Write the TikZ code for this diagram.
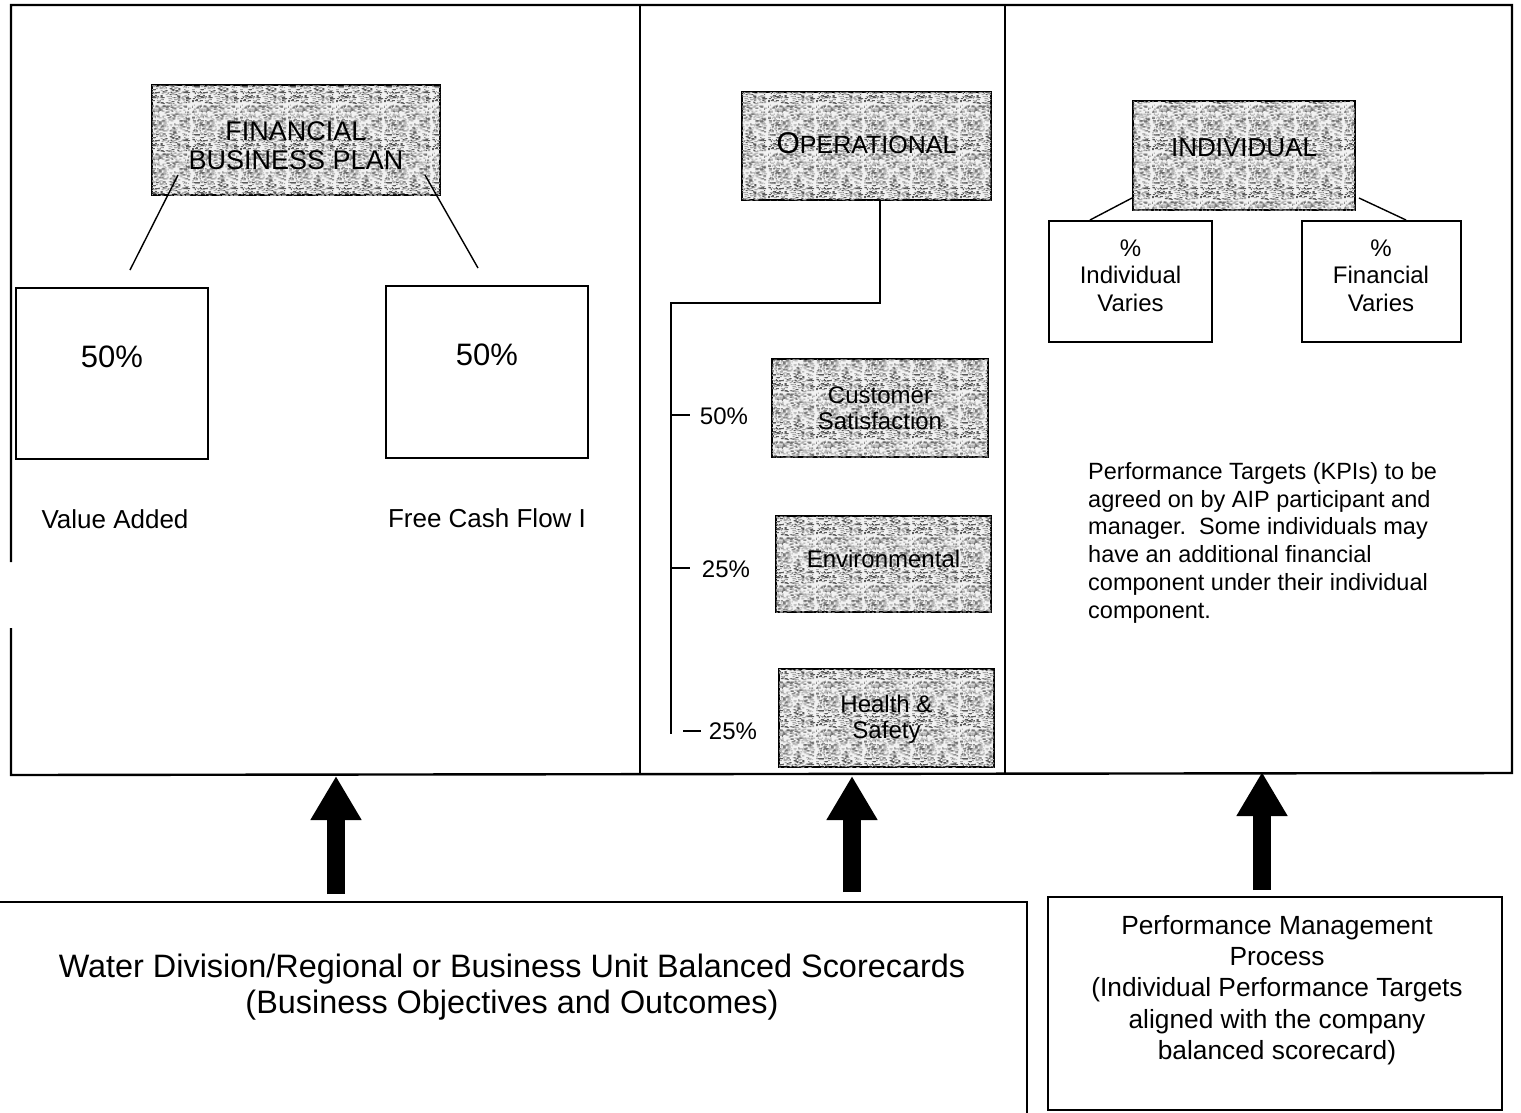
\documentclass[tikz,border=0pt]{standalone}
\usepackage{fontspec}
\setmainfont{Liberation Sans}
\usetikzlibrary{arrows.meta,patterns,calc}

\newcommand{\fsz}[2]{\fontsize{#1}{#2}\selectfont}

% stippled shading: short horizontal specks scattered over a square tile
\newcommand{\declarespeckle}[3]{%
  \pgfdeclarepatternformonly{#1}{\pgfqpoint{0pt}{0pt}}{\pgfqpoint{48pt}{48pt}}{\pgfqpoint{48pt}{48pt}}{%
    \pgfmathsetseed{#2}%
    \foreach \k in {1,...,#3}{%
      \pgfmathrandominteger{\sx}{0}{45}%
      \pgfmathrandominteger{\sy}{0}{47}%
      \pgfmathrandominteger{\sw}{1}{3}%
      \pgfpathrectangle{\pgfqpoint{\sx pt}{\sy pt}}{\pgfqpoint{\sw pt}{1pt}}%
      \pgfusepath{fill}%
    }%
  }%
}
\declarespeckle{speckgray}{1234}{400}
\declarespeckle{speckdark}{4321}{190}

\begin{document}
\begin{tikzpicture}[x=1pt,y=-1pt,
  frameline/.style={line width=2.4pt},
  shaded/.style={draw, line width=2pt, fill=gray!10,
    postaction={pattern=speckgray, pattern color=gray!70},
    postaction={pattern=speckdark, pattern color=black!65},
    inner sep=0pt, align=center},
  plainbox/.style={draw, line width=2pt, inner sep=0pt, align=center},
  link/.style={line width=1.4pt},
  label/.style={inner sep=0pt, align=center},
  bigarrow/.style={line width=18pt, -{Triangle[length=44pt,width=48pt]}},
]
\useasboundingbox (0,0) rectangle (1521,1112);

% ---- outer frame with its three columns ----
\draw[frameline] (11,562) -- (11,5) -- (1512,5) -- (1512,773) -- (11,775) -- (11,628);
\draw[frameline] (640,5) -- (640,774);
\draw[frameline] (1005,5) -- (1005,773);
\coordinate (frameA) at (336,776);
\coordinate (frameB) at (852,776);
\coordinate (frameC) at (1262,772);

% ---- financial column ----
\node[shaded, minimum width=288pt, minimum height=110pt] (fin) at (296,140) {};
\node[label, font=\fsz{27}{29}] (fintxt) at ($(fin.center)+(0,6)$) {FINANCIAL\\BUSINESS PLAN};
\node[plainbox, minimum width=192pt, minimum height=171pt] (va) at (112,373.5) {};
\node[plainbox, minimum width=202pt, minimum height=172pt] (fcf) at (487,372) {};
\node[label, font=\fsz{31}{34}] (vapct) at (112,357) {50\%};
\node[label, font=\fsz{31}{34}] (fcfpct) at (487,355) {50\%};
\node[label, font=\fsz{26}{30}] (valbl) at (115,519) {Value Added};
\node[label, font=\fsz{26}{30}] (fcflbl) at (487,518) {Free Cash Flow I};
\coordinate (finL) at (178,175);
\coordinate (finR) at (425,175);
\coordinate (vaTop) at (130,270);
\coordinate (fcfTop) at (478,268);
\draw[link] (finL) -- (vaTop);
\draw[link] (finR) -- (fcfTop);

% ---- operational column ----
\node[shaded, minimum width=249pt, minimum height=108pt] (op) at (866.5,146) {};
\node[label] (optxt) at ($(op.center)+(0,-3)$) {\fsz{30}{30}O\fsz{25}{30}PERATIONAL};
\node[shaded, minimum width=216pt, minimum height=98pt] (cs) at (880,408) {};
\node[label, font=\fsz{24}{26}] (cstxt) at (cs.center) {Customer\\Satisfaction};
\node[shaded, minimum width=215pt, minimum height=96pt] (env) at (883.5,564) {};
\node[label, font=\fsz{24}{26}] (envtxt) at ($(env.center)+(0,-5)$) {Environmental};
\node[shaded, minimum width=215pt, minimum height=98pt] (hs) at (886.5,718) {};
\node[label, font=\fsz{24}{26}] (hstxt) at ($(hs.center)+(0,1)$) {Health \&\\Safety};
\coordinate (busTop) at (671,303);
\coordinate (busBot) at (671,734);
\draw[link] (op.south -| 880,0) |- (busTop) -- (busBot);
\coordinate (t1) at (671,415);
\coordinate (t2) at (671,568);
\coordinate (t3) at (683,731);
\draw[link] (t1) -- ++(19,0);
\draw[link] (t2) -- ++(19,0);
\draw[link] (t3) -- ++(18,0);
\node[label, font=\fsz{24}{26}] (p1) at (724,416) {50\%};
\node[label, font=\fsz{24}{26}] (p2) at (726,569) {25\%};
\node[label, font=\fsz{24}{26}] (p3) at (733,731) {25\%};

% ---- individual column ----
\node[shaded, minimum width=222pt, minimum height=109pt] (ind) at (1244,155.5) {};
\node[label, font=\fsz{26}{28}] (indtxt) at ($(ind.center)+(0,-8)$) {INDIVIDUAL};
\node[plainbox, minimum width=163pt, minimum height=121pt] (ib) at (1130.5,281.5) {};
\node[label, font=\fsz{24}{27.5}] (ibtxt) at ($(ib.center)+(0,-6)$) {\%\\Individual\\Varies};
\node[plainbox, minimum width=159pt, minimum height=121pt] (fb) at (1381,281.5) {};
\node[label, font=\fsz{24}{27.5}] (fbtxt) at ($(fb.center)+(0,-6)$) {\%\\Financial\\Varies};
\draw[link] ($(ind.south west)+(0,-13)$) -- (ib.north -| 1090,0);
\draw[link] ($(ind.south east)+(3,-13)$) -- (fb.north -| 1406,0);
\node[label, anchor=north west, align=left, font=\fsz{23.5}{27.8}] (kpi) at (1088,462)
  {Performance Targets (KPIs) to be\\
   agreed on by AIP participant and\\
   manager.\ \ Some individuals may\\
   have an additional financial\\
   component under their individual\\
   component.};

% ---- sources feeding the frame ----
\node[draw, line width=2pt, minimum width=1040pt, minimum height=220pt, inner sep=0pt]
  (wbox) at (507,1012) {};
\node[label, font=\fsz{32.4}{36}] (wtxt) at (512,987)
  {Water Division/Regional or Business Unit Balanced Scorecards\\
   (Business Objectives and Outcomes)};
\node[plainbox, minimum width=454pt, minimum height=213pt] (pbox) at (1275,1003.5) {};
\node[label, font=\fsz{26.3}{31.2}] (ptxt) at (1277,990)
  {Performance Management\\Process\\(Individual Performance Targets\\
   aligned with the company\\balanced scorecard)};

\coordinate (srcA) at (336,894);
\coordinate (srcB) at (852,892);
\coordinate (srcC) at (1262,890);
\draw[bigarrow] (srcA) -- (frameA);
\draw[bigarrow] (srcB) -- (frameB);
\draw[bigarrow] (srcC) -- (frameC);
\end{tikzpicture}
\end{document}
